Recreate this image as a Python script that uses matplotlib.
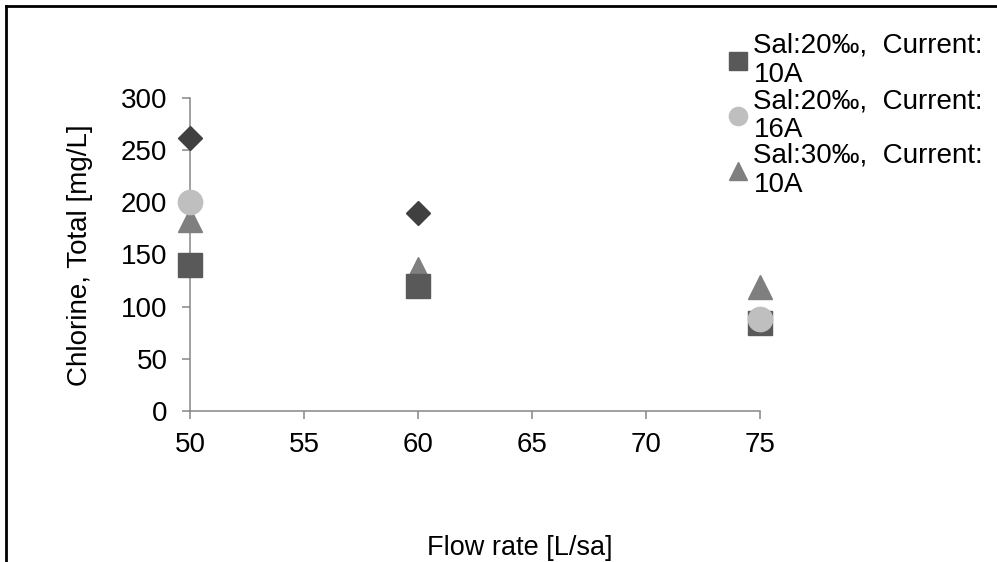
import matplotlib
matplotlib.use("Agg")
import matplotlib.pyplot as plt
from matplotlib.lines import Line2D
import numpy as np

plt.rcParams['font.family'] = ['Liberation Sans', 'DejaVu Sans']

flow = [50, 60, 75]
sal20_10A = [140, 120, 84]
sal20_16A = [200, np.nan, 88]
sal30_10A = [183, 136, 119]
extra_series = [262, 190, np.nan]

labels = ["Sal:20\u2030,  Current:\n10A",
          "Sal:20\u2030,  Current:\n16A",
          "Sal:30\u2030,  Current:\n10A"]

xticks = [50, 55, 60, 65, 70, 75]
yticks = [0, 50, 100, 150, 200, 250, 300]

W, H = 997, 562
fig = plt.figure(figsize=(W / 100, H / 100), dpi=100)
ax = fig.add_axes([190 / W, 1 - 411 / H, (760 - 190) / W, (411 - 98) / H])

grey = '#868686'
ax.plot(flow, sal30_10A, linestyle='none', marker='^', markersize=17.5,
        color='#7f7f7f', label=labels[2], zorder=3, clip_on=False)
ax.plot(flow, sal20_10A, linestyle='none', marker='s', markersize=17,
        color='#595959', label=labels[0], zorder=4, clip_on=False)
ax.plot(flow, sal20_16A, linestyle='none', marker='o', markersize=17.5,
        color='#bfbfbf', label=labels[1], zorder=5, clip_on=False)
ax.plot(flow, extra_series, linestyle='none', marker='D', markersize=12,
        color='#404040', label='_nolegend_', zorder=6, clip_on=False)

ax.set_xlim(50, 75)
ax.set_ylim(0, 300)
ax.set_xticks(xticks)
ax.set_yticks(yticks)
for s in ['top', 'right']:
    ax.spines[s].set_visible(False)
for s in ['left', 'bottom']:
    ax.spines[s].set_color(grey)
    ax.spines[s].set_linewidth(1.1)
ax.tick_params(axis='both', direction='out', length=5.8, width=1.1, color=grey,
               labelsize=20, labelcolor='black')
ax.tick_params(axis='y', pad=10.5)
ax.tick_params(axis='x', pad=9)

handles, labs = ax.get_legend_handles_labels()
order = [1, 2, 0]
leg = fig.legend([handles[i] for i in order], [labs[i] for i in order],
                 loc='upper left', bbox_to_anchor=(727 / W, 1 - 33 / H),
                 frameon=False, fontsize=20, markerscale=0.75,
                 handlelength=0.8, handletextpad=0.15, labelspacing=0.0,
                 borderaxespad=0, borderpad=0)
for t in leg.get_texts():
    t.set_linespacing(1.15)

fig.text(80 / W, 1 - 255 / H, "Chlorine, Total [mg/L]", rotation=90,
         ha='center', va='center', fontsize=20)
fig.text(520 / W, 1 - 548 / H, "Flow rate [L/sa]", ha='center',
         va='center', fontsize=19.5)

fig.add_artist(Line2D([6 / W, 1.0], [1 - 6 / H, 1 - 6 / H], color='black',
                      linewidth=2, transform=fig.transFigure))
fig.add_artist(Line2D([6 / W, 6 / W], [0, 1 - 6 / H], color='black',
                      linewidth=2, transform=fig.transFigure))

fig.savefig('out.png', dpi=100)
